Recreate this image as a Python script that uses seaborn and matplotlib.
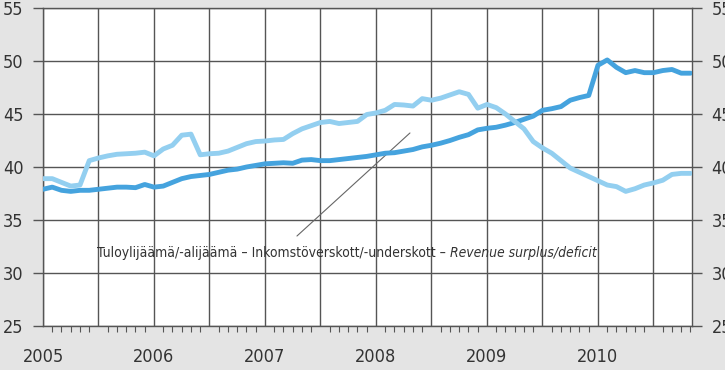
import numpy as np
import pandas as pd
import matplotlib
matplotlib.use("Agg")
import matplotlib.pyplot as plt
from matplotlib.ticker import MultipleLocator, FuncFormatter
import seaborn as sns

# Monthly observations, January 2005 - November 2010
months = pd.date_range("2005-01-01", periods=71, freq="MS")

revenue_dark = [
    37.9, 38.1, 37.8, 37.7, 37.8, 37.8, 37.9, 38.0, 38.1, 38.1,
    38.05, 38.35, 38.1, 38.2, 38.55, 38.9, 39.1, 39.2, 39.3, 39.5,
    39.7, 39.8, 40.0, 40.15, 40.3, 40.35, 40.4, 40.35, 40.65, 40.7,
    40.6, 40.6, 40.7, 40.8, 40.9, 41.0, 41.15, 41.3, 41.35, 41.5,
    41.65, 41.9, 42.05, 42.25, 42.5, 42.8, 43.05, 43.5, 43.65, 43.75,
    43.95, 44.2, 44.5, 44.8, 45.35, 45.5, 45.7, 46.3, 46.55, 46.75,
    49.6, 50.1, 49.4, 48.9, 49.1, 48.9, 48.9, 49.1, 49.2, 48.85,
    48.85,
]

revenue_light = [
    38.9, 38.9, 38.55, 38.2, 38.3, 40.6, 40.85, 41.05, 41.2, 41.25,
    41.3, 41.4, 41.05, 41.7, 42.05, 43.0, 43.1, 41.15, 41.25, 41.3,
    41.5, 41.85, 42.2, 42.4, 42.45, 42.55, 42.6, 43.15, 43.6, 43.9,
    44.2, 44.3, 44.1, 44.2, 44.3, 44.95, 45.1, 45.35, 45.9, 45.85,
    45.75, 46.45, 46.3, 46.5, 46.8, 47.1, 46.85, 45.55, 45.9, 45.6,
    45.0, 44.3, 43.6, 42.4, 41.8, 41.3, 40.6, 39.9, 39.5, 39.1,
    38.7, 38.3, 38.15, 37.7, 37.95, 38.3, 38.5, 38.75, 39.3, 39.4,
    39.4,
]

year_labels = ["2005", "2006", "2007", "2008", "2009", "2010"]
y_ticks = [25, 30, 35, 40, 45, 50, 55]
caption_main = "Tuloylijäämä/-alijäämä – Inkomstöverskott/-underskott – "
caption_en = "Revenue surplus/deficit"

DARK_BLUE = "#45a3de"
LIGHT_BLUE = "#93cff0"
GRID = "#555555"
TEXT = "#333333"
BG = "#e4e4e4"

sns.set_style("white")
plt.rcParams["font.family"] = ["DejaVu Sans"]
plt.rcParams["font.stretch"] = "condensed"

decimal_year = months.year + (months.month - 1) / 12.0
df = pd.concat([
    pd.DataFrame({"year": decimal_year, "value": revenue_dark, "series": "a"}),
    pd.DataFrame({"year": decimal_year, "value": revenue_light, "series": "b"}),
], ignore_index=True)

fig = plt.figure(figsize=(7.25, 3.7), dpi=100, facecolor=BG)
ax = fig.add_axes([43 / 725, 1 - 326 / 370, (692 - 43) / 725, 318 / 370])
ax.set_facecolor("white")

sns.lineplot(data=df, x="year", y="value", hue="series",
             palette=[DARK_BLUE, LIGHT_BLUE], linewidth=3.5,
             legend=False, ax=ax, zorder=3)

ax.set_xlim(2005, 2010.847)
ax.set_ylim(y_ticks[0], y_ticks[-1])
ax.set_xlabel("")
ax.set_ylabel("")

# Axis ticks: half-year gridlines, monthly minor ticks, labels on year starts
ax.xaxis.set_major_locator(MultipleLocator(0.5))
ax.xaxis.set_minor_locator(MultipleLocator(1 / 12))
first_year = int(year_labels[0])


def year_fmt(v, pos):
    if abs(v - round(v)) < 1e-6:
        idx = int(round(v)) - first_year
        if 0 <= idx < len(year_labels):
            return year_labels[idx]
    return ""


ax.xaxis.set_major_formatter(FuncFormatter(year_fmt))
ax.set_yticks(y_ticks)

ax.grid(True, which="major", color=GRID, linewidth=1.0, zorder=1)
ax.set_axisbelow(True)
for s in ax.spines.values():
    s.set_visible(True)
    s.set_color(GRID)
    s.set_linewidth(1.0)

ax.tick_params(axis="x", which="major", direction="out", length=8,
               width=1.0, color=GRID, pad=8, labelsize=13, labelcolor=TEXT)
ax.tick_params(axis="x", which="minor", direction="out", length=4.5,
               width=0.8, color=GRID, bottom=True)
ax.tick_params(axis="y", which="major", direction="out", length=7,
               width=1.0, color=GRID, pad=7, labelsize=13, labelcolor=TEXT,
               left=True, right=True, labelleft=True, labelright=True)

# Caption with pointer line
ax.plot([2007.288, 2008.306], [33.49, 43.21], color="#666666",
        linewidth=0.8, zorder=2)
t1 = ax.text(2005.49, 31.2, caption_main, fontsize=10, color=TEXT,
             ha="left", va="bottom", zorder=4)
ax.annotate(caption_en, xy=(1, 0), xycoords=t1, fontsize=10,
            fontstyle="italic", color=TEXT, ha="left", va="bottom", zorder=4)

fig.savefig("out.png", dpi=100, facecolor=BG)
